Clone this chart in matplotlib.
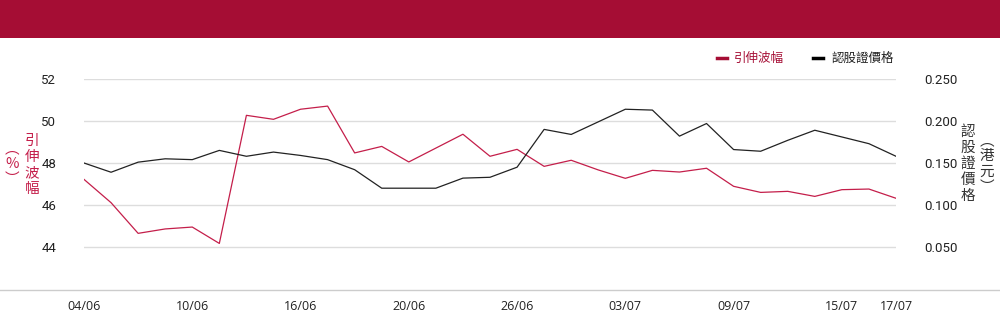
import matplotlib
matplotlib.use("Agg")
import matplotlib.pyplot as plt
from matplotlib.lines import Line2D
from matplotlib.patches import Rectangle

plt.rcParams['font.family'] = ['Noto Sans CJK TC', 'DejaVu Sans']

# trading days, 04/06 - 17/07
dates = ["04/06", "05/06", "06/06", "09/06", "10/06", "11/06", "12/06", "13/06",
         "16/06", "17/06", "18/06", "19/06", "20/06", "23/06", "24/06", "25/06",
         "26/06", "27/06", "30/06", "02/07", "03/07", "04/07", "07/07", "08/07",
         "09/07", "10/07", "11/07", "14/07", "15/07", "16/07", "17/07"]
tick_idx = [0, 4, 8, 12, 16, 20, 24, 28, 30]

# implied volatility (%)
iv = [47.22, 46.11, 44.65, 44.86, 44.95, 44.17, 50.27, 50.08, 50.56, 50.71,
      48.48, 48.79, 48.05, 48.71, 49.37, 48.32, 48.65, 47.84, 48.13, 47.67,
      47.27, 47.65, 47.57, 47.75, 46.89, 46.60, 46.65, 46.41, 46.73, 46.76, 46.32]
# warrant price (HKD)
price = [0.150, 0.139, 0.151, 0.155, 0.154, 0.165, 0.158, 0.163, 0.159, 0.154,
         0.142, 0.120, 0.120, 0.120, 0.132, 0.133, 0.145, 0.190, 0.184, 0.199,
         0.214, 0.213, 0.182, 0.197, 0.166, 0.164, 0.177, 0.189, 0.181, 0.173, 0.158]

left_ticks = [44, 46, 48, 50, 52]
right_ticks = [0.050, 0.100, 0.150, 0.200, 0.250]

RED = "#C41E4A"
DARK_RED = "#A50D34"
BLACK = "#222222"

W, H = 1000, 324
fig = plt.figure(figsize=(10, 3.24), dpi=100)
fig.patch.set_facecolor("white")

# banner
fig.patches.append(Rectangle((0, 1 - 38 / H), 1, 38 / H, transform=fig.transFigure,
                             facecolor=DARK_RED, edgecolor="none"))
# bottom rule
fig.lines.append(Line2D([0, 1], [1 - 289.5 / H] * 2, transform=fig.transFigure,
                        color="#cccccc", linewidth=1))

ax = fig.add_axes([84 / W, 1 - 289 / H, (896 - 84) / W, (289 - 79) / H])
ax2 = ax.twinx()

x = list(range(len(dates)))
ax.plot(x, iv, color=RED, linewidth=0.9, zorder=3)
ax2.plot(x, price, color=BLACK, linewidth=0.9, zorder=3)

ax.set_ylim(42, 52)
ax2.set_ylim(0.0, 0.25)
ax.set_xlim(0, len(dates) - 1)

ax.set_yticks(left_ticks)
ax.set_yticklabels([str(t) for t in left_ticks], family="Roboto", fontsize=9.5, color="#222222")
ax2.set_yticks(right_ticks)
ax2.set_yticklabels(["%.3f" % t for t in right_ticks], family="Roboto", fontsize=9.5, color="#222222")
ax.set_xticks(tick_idx)
ax.set_xticklabels([dates[i] for i in tick_idx], family="Open Sans", fontsize=9, color="#222222")

ax.grid(axis="y", color="#dddddd", linewidth=1)
ax.set_axisbelow(True)
for a in (ax, ax2):
    for s in a.spines.values():
        s.set_visible(False)
    a.tick_params(length=0)
ax.tick_params(axis="y", pad=20)
ax2.tick_params(axis="y", pad=20)
ax.tick_params(axis="x", pad=8)

# vertical axis titles
fig.text(32 / W, 1 - 165 / H, "引\n伸\n波\n幅", color=RED, fontsize=10.5,
         ha="center", va="center", linespacing=1.2)
fig.text(12 / W, 1 - 164 / H, "︵\n%\n︶", color=RED, fontsize=10.5,
         ha="center", va="center", linespacing=1.1)
fig.text(968 / W, 1 - 164 / H, "認\n股\n證\n價\n格", color="#333333", fontsize=10.5,
         ha="center", va="center", linespacing=1.2)
fig.text(987 / W, 1 - 164 / H, "︵\n港\n元\n︶", color="#333333", fontsize=10.5,
         ha="center", va="center", linespacing=1.1)

# legend
fig.lines.append(Line2D([717 / W, 727 / W], [1 - 58 / H] * 2, transform=fig.transFigure,
                        color=DARK_RED, linewidth=2.5))
fig.text(734 / W, 1 - 58 / H, "引伸波幅", color=DARK_RED, fontsize=9, ha="left", va="center")
fig.lines.append(Line2D([813 / W, 823 / W], [1 - 58 / H] * 2, transform=fig.transFigure,
                        color="black", linewidth=2.5))
fig.text(831 / W, 1 - 58 / H, "認股證價格", color="#222222", fontsize=9, ha="left", va="center")

fig.savefig("out.png", dpi=100)
